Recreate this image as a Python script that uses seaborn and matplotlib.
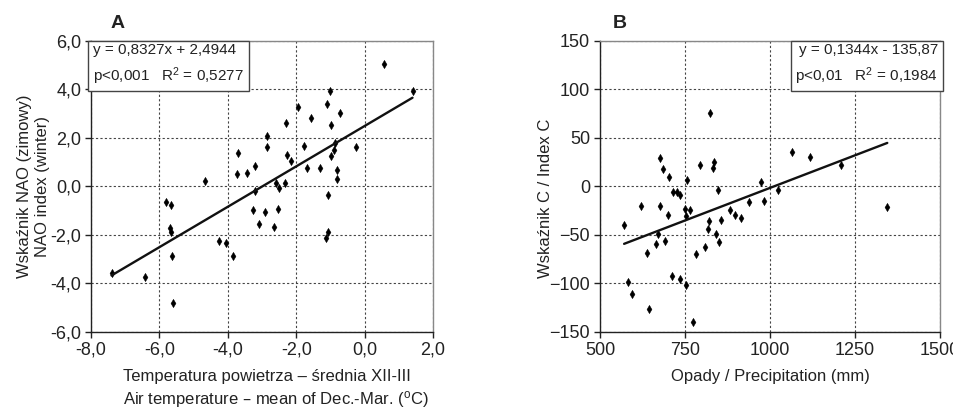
import numpy as np
import pandas as pd
import matplotlib
matplotlib.use("Agg")
import matplotlib.pyplot as plt
import seaborn as sns
from matplotlib.ticker import FuncFormatter, MultipleLocator

# =========================================
# DATA
# =========================================
# panel A: winter air temperature (Dec-Mar, degC) vs winter NAO index
temp_a = [0.58, 1.40, -1.02, -1.11, -1.95, -0.73, -2.30, -1.57, -0.99, -2.85,
          -2.85, -3.70, -1.77, -0.86, -0.25, -0.90, -0.99, -2.27, -2.14, -3.20,
          -1.68, -1.31, -0.80, -3.72, -3.45, -0.80, -4.66, -2.60, -2.34, -2.51,
          -3.20, -1.07, -5.80, -5.67, -3.25, -2.92, -2.52, -3.09, -2.65, -5.69,
          -5.65, -1.07, -1.13, -4.26, -4.06, -3.86, -5.62, -7.40, -6.41, -5.61]
nao_a = [5.07, 3.94, 3.94, 3.42, 3.26, 3.03, 2.62, 2.81, 2.52, 2.07,
         1.62, 1.38, 1.67, 1.79, 1.62, 1.49, 1.24, 1.28, 1.05, 0.84,
         0.78, 0.78, 0.70, 0.50, 0.55, 0.32, 0.21, 0.14, 0.14, -0.07,
         -0.19, -0.34, -0.65, -0.76, -0.99, -1.05, -0.92, -1.54, -1.67, -1.71,
         -1.89, -1.89, -2.12, -2.23, -2.34, -2.85, -2.85, -3.58, -3.75, -4.82]
coef_a = (0.8327, 2.4944)

# panel B: precipitation (mm) vs index C
prec_b = [823, 678, 685, 793, 835, 833, 1064, 1119, 1209,
          703, 755, 714, 727, 736, 848, 974, 1025,
          571, 621, 676, 700, 750, 766, 752, 820, 819, 855, 883, 898, 916, 937, 981,
          670, 665, 692, 639, 781, 808, 841, 851,
          581, 595, 644, 712, 734, 752, 774, 1345]
idx_b = [75.6, 29.2, 17.8, 22.4, 25.0, 19.3, 35.4, 30.9, 22.4,
         9.3, 6.9, -5.5, -5.8, -8.6, -4.0, 4.4, -4.0,
         -39.3, -20.1, -19.8, -28.9, -23.0, -24.0, -30.8, -35.8, -44.0, -34.2, -24.4, -29.9, -33.0, -15.6, -15.3,
         -49.0, -59.0, -56.0, -69.0, -69.4, -62.2, -49.2, -57.5,
         -98.6, -111.3, -125.8, -92.4, -95.2, -101.4, -139.2, -21.3]
coef_b = (0.1344, -135.87)

letters = ["A", "B"]
eq_a = "y = 0,8327x + 2,4944\np<0,001   R$^{2}$ = 0,5277"
eq_b = "y = 0,1344x - 135,87\np<0,01   R$^{2}$ = 0,1984"
xlab_a = "Temperatura powietrza \u2013 \u015brednia XII-III\nAir temperature \u2013 mean of Dec.-Mar. ($^{o}$C)"
ylab_a = "Wska\u017anik NAO (zimowy)\nNAO index (winter)"
xlab_b = "Opady / Precipitation (mm)"
ylab_b = "Wska\u017anik C / Index C"

# =========================================
# STYLE
# =========================================
sns.set_style("white")
plt.rcParams['font.family'] = ['Liberation Sans', 'DejaVu Sans']
plt.rcParams['mathtext.default'] = 'regular'

fig = plt.figure(figsize=(9.54, 4.09), dpi=100)
ax_a = fig.add_axes([0.0954, 0.1883, 0.3585, 0.7115])
ax_b = fig.add_axes([0.6289, 0.1883, 0.3564, 0.7115])


def style_axes(ax):
    for s in ["left", "bottom"]:
        ax.spines[s].set_color("#222222")
        ax.spines[s].set_linewidth(1.0)
    for s in ["top", "right"]:
        ax.spines[s].set_color("#888888")
        ax.spines[s].set_linewidth(1.0)
    ax.grid(True, color="#444444", linestyle=(0, (2, 2)), linewidth=0.8)
    ax.set_axisbelow(True)
    ax.tick_params(axis="both", direction="out", length=4, width=1,
                   color="#222222", labelsize=13, pad=3,
                   bottom=True, left=True, labelcolor="#222222")


def draw_panel(ax, x, y, coef):
    df = pd.DataFrame({"x": x, "y": y})
    sns.scatterplot(data=df, x="x", y="y", ax=ax, marker="d", s=18,
                    color="black", edgecolor="black", linewidth=0.3, zorder=3)
    xl = np.array([df["x"].min(), df["x"].max()])
    line = pd.DataFrame({"x": xl, "y": coef[0] * xl + coef[1]})
    sns.lineplot(data=line, x="x", y="y", ax=ax, color="#111111",
                 linewidth=1.7, zorder=4)


# panel A
draw_panel(ax_a, temp_a, nao_a, coef_a)
ax_a.set_xlim(-8, 2)
ax_a.set_ylim(-6, 6)
ax_a.xaxis.set_major_locator(MultipleLocator(2))
ax_a.yaxis.set_major_locator(MultipleLocator(2))
fmt = FuncFormatter(lambda v, p: f"{v:.1f}".replace(".", ","))
ax_a.xaxis.set_major_formatter(fmt)
ax_a.yaxis.set_major_formatter(fmt)
style_axes(ax_a)
ax_a.set_xlabel(xlab_a, fontsize=12, multialignment="left", color="#222222",
                linespacing=1.3)
ax_a.xaxis.set_label_coords(0.54, -0.128, transform=ax_a.transAxes)
ax_a.xaxis.label.set_va("top")
ax_a.set_ylabel(ylab_a, fontsize=12, color="#222222", linespacing=1.25)
ax_a.yaxis.set_label_coords(-0.12, 0.5, transform=ax_a.transAxes)
ax_a.text(0.006, 0.994, eq_a, transform=ax_a.transAxes, ha="left", va="top",
          fontsize=11, color="#222222", linespacing=1.55, zorder=6,
          bbox=dict(boxstyle="square,pad=0.3", fc="white", ec="#444444", lw=1))

# panel B
draw_panel(ax_b, prec_b, idx_b, coef_b)
ax_b.set_xlim(500, 1500)
ax_b.set_ylim(-150, 150)
ax_b.xaxis.set_major_locator(MultipleLocator(250))
ax_b.yaxis.set_major_locator(MultipleLocator(50))
style_axes(ax_b)
ax_b.set_xlabel(xlab_b, fontsize=12, color="#222222")
ax_b.xaxis.set_label_coords(0.5, -0.128, transform=ax_b.transAxes)
ax_b.xaxis.label.set_va("top")
ax_b.set_ylabel(ylab_b, fontsize=12, color="#222222")
ax_b.yaxis.set_label_coords(-0.138, 0.46, transform=ax_b.transAxes)
ax_b.text(0.994, 0.994, eq_b, transform=ax_b.transAxes, ha="right", va="top",
          fontsize=11, color="#222222", linespacing=1.55, zorder=6,
          bbox=dict(boxstyle="square,pad=0.3", fc="white", ec="#444444", lw=1))

for ax, lab, xpos in zip([ax_a, ax_b], letters, [118 / 954, 620 / 954]):
    fig.text(xpos, 1 - 23 / 409, lab, ha="center", va="center",
             fontsize=14, fontweight="bold", color="#222222")

fig.savefig("out.png", dpi=100)
